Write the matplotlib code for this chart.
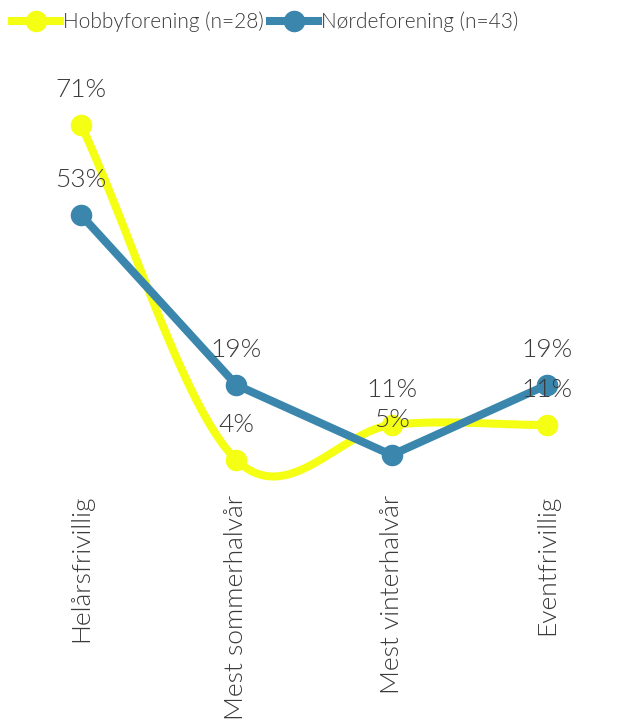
import numpy as np
import matplotlib.pyplot as plt

categories = ["Helårsfrivillig", "Mest sommerhalvår", "Mest vinterhalvår", "Eventfrivillig"]
hobby = [71, 4, 11, 11]
noerd = [53, 19, 5, 19]
hobby_name = "Hobbyforening (n=28)"
noerd_name = "Nørdeforening (n=43)"

YELLOW = "#f4ff14"
BLUE = "#3a86ad"
TEXT = "#3a3a3a"
FONT = "Lato"

plt.rcParams['font.family'] = [FONT, 'DejaVu Sans']
plt.rcParams['font.weight'] = 300


def catmull_rom(xs, ys, n=40):
    # smooth curve through the points (uniform catmull-rom)
    p = np.column_stack([xs, ys]).astype(float)
    tang = np.zeros_like(p)
    tang[1:-1] = (p[2:] - p[:-2]) / 2
    tang[0] = p[1] - p[0]
    tang[-1] = p[-1] - p[-2]
    out = []
    t = np.linspace(0, 1, n)
    for i in range(len(p) - 1):
        h00 = 2*t**3 - 3*t**2 + 1
        h10 = t**3 - 2*t**2 + t
        h01 = -2*t**3 + 3*t**2
        h11 = t**3 - t**2
        seg = (h00[:, None]*p[i] + h10[:, None]*tang[i]
               + h01[:, None]*p[i+1] + h11[:, None]*tang[i+1])
        out.append(seg)
    out = np.vstack(out)
    return out[:, 0], out[:, 1]


fig = plt.figure(figsize=(6.36, 7.2), dpi=100)
ax = fig.add_axes([19/636, (720-500)/720, 590/636, (500-80)/720])
x = np.arange(len(categories))

sx, sy = catmull_rom(x, hobby)
ax.plot(sx, sy, color=YELLOW, lw=5.8, solid_capstyle='round', clip_on=False, zorder=2)
ax.plot(x, hobby, 'o', color=YELLOW, ms=14.5, clip_on=False, zorder=3)
ax.plot(x, noerd, '-o', color=BLUE, lw=5.8, ms=14.5, clip_on=False, zorder=4)

for xi, v in zip(x, hobby):
    ax.annotate(f"{v}%", (xi, v), xytext=(0, 25), textcoords='offset points',
                ha='center', va='center', fontsize=19, color=TEXT, zorder=5)
for xi, v in zip(x, noerd):
    ax.annotate(f"{v}%", (xi, v), xytext=(0, 25), textcoords='offset points',
                ha='center', va='center', fontsize=19, color=TEXT, zorder=5)

ax.set_xlim(-0.4, 3.4)
ax.set_ylim(-4, 80)
ax.set_xticks(x)
ax.set_xticklabels(categories, rotation=90, fontsize=19, color=TEXT)
ax.tick_params(axis='x', length=0, pad=-4)
ax.set_yticks([])
for s in ax.spines.values():
    s.set_visible(False)

h1, = ax.plot([], [], '-o', color=YELLOW, lw=5.8, ms=14.5)
h2, = ax.plot([], [], '-o', color=BLUE, lw=5.8, ms=14.5)
fig.legend([h1, h2], [hobby_name, noerd_name], loc='center left',
           bbox_to_anchor=(12/636, 1 - 22/720), ncol=2, frameon=False,
           fontsize=15, labelcolor=TEXT, handlelength=2.3, handletextpad=0.15,
           columnspacing=0.3, borderpad=0, borderaxespad=0)

fig.savefig("out.png", dpi=100)
